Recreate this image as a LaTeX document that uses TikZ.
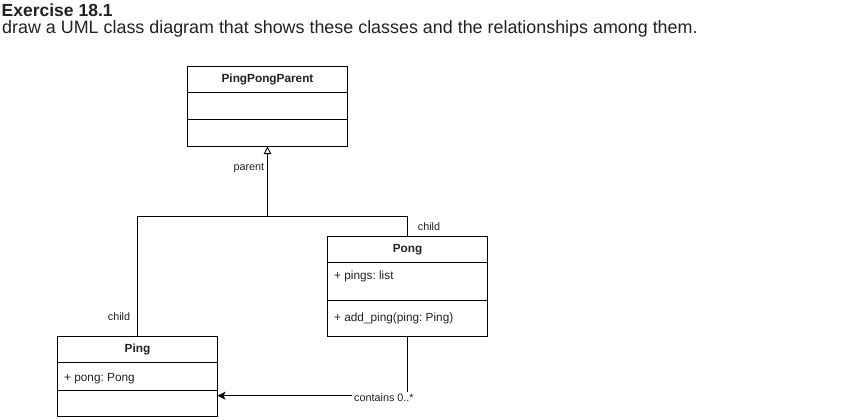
\documentclass[tikz,border=0pt]{standalone}
\usepackage{fontspec}
\setmainfont{Liberation Sans}
\usetikzlibrary{arrows.meta}
\definecolor{txt}{HTML}{222222}
\frenchspacing
\begin{document}
\begin{tikzpicture}[x=1pt,y=-1pt,
  comp/.style={draw=black, line width=0.9pt, minimum width=160pt, inner sep=0pt, outer sep=0pt, anchor=north west, text=txt},
  head/.style={comp, minimum height=26pt, font=\fontsize{11.8}{13}\selectfont\bfseries},
  member/.style={anchor=base west, inner sep=0pt, text=txt, font=\fontsize{11.8}{13}\selectfont},
  lbl/.style={anchor=base west, inner sep=0pt, text=txt, font=\fontsize{10.8}{12}\selectfont},
  conn/.style={draw=black, line width=0.9pt},
  inh/.style={conn, -{Triangle[open, length=7.5pt, width=7.5pt, line width=0.9pt]}},
  assoc/.style={conn, -{Stealth[length=8pt, width=8pt, inset=2pt]}}
]
\useasboundingbox (0,0) rectangle (855,420);
\fill[white] (0,0) rectangle (855,420);

% heading
\node[anchor=base west, inner sep=0pt, text=txt, font=\fontsize{17.5}{20}\selectfont\bfseries] (title) at (1.5,16.7) {Exercise 18.1};
\node[anchor=base west, inner sep=0pt, text=txt, font=\fontsize{17.9}{20}\selectfont] (subtitle) at (2,33.5) {draw a UML class diagram that shows these classes and the relationships among them.};

% PingPongParent
\node[head] (pppH) at (187.5,66.5) {PingPongParent};
\node[comp, minimum height=27pt] (pppA) at (pppH.south west) {};
\node[comp, minimum height=27pt] (pppM) at (pppA.south west) {};

% Pong
\node[head] (pongH) at (327.5,236.5) {Pong};
\node[comp, minimum height=38pt] (pongA) at (pongH.south west) {};
\node[comp, minimum height=36pt] (pongM) at (pongA.south west) {};
\node[member] (pongAt) at ([xshift=6.5pt, yshift=-16.8pt]pongA.north west) {+ pings: list};
\node[member] (pongMt) at ([xshift=6.5pt, yshift=-21.2pt]pongM.north west) {+ add\_ping(ping: Ping)};

% Ping
\node[head] (pingH) at (57.5,336.5) {Ping};
\node[comp, minimum height=28pt] (pingA) at (pingH.south west) {};
\node[comp, minimum height=26pt] (pingM) at (pingA.south west) {};
\node[member] (pingAt) at ([xshift=6.5pt, yshift=-18.5pt]pingA.north west) {+ pong: Pong};

% generalisation
\coordinate (j) at (267.5,216.5);
\draw[conn] (pingH.north) |- (j);
\draw[conn] (pongH.north) |- (j);
\draw[inh] (j) -- (pppM.south);
\node[lbl] (lparent) at (233.3,170.7) {parent};
\node[lbl] (lchild1) at (417.7,230.7) {child};
\node[lbl] (lchild2) at (107.7,320.7) {child};

% association
\draw[assoc] (pongM.south) |- ([yshift=-5.2pt]pingM.north east);
\node[lbl, fill=white, inner sep=2pt] (lcont) at (352,401.7) {contains 0..*};
\end{tikzpicture}
\end{document}
